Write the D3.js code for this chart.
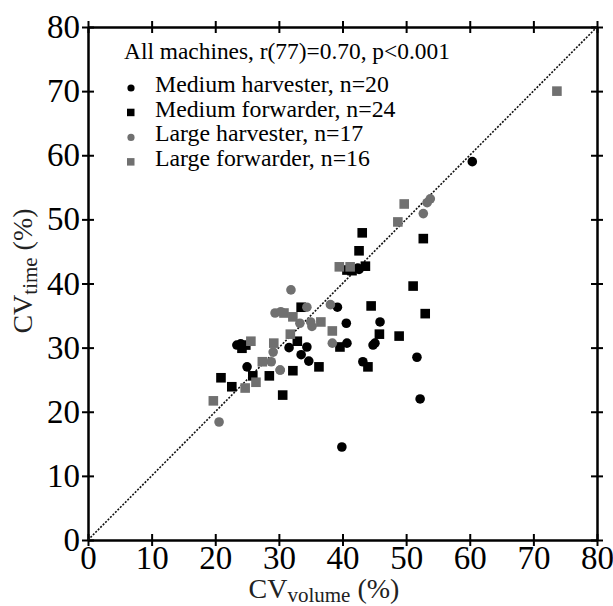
<!DOCTYPE html>
<html>
<head>
<meta charset="utf-8">
<script src="https://cdn.jsdelivr.net/npm/d3@7"></script>
<style>
  body { margin: 0; background: #fff; }
  svg text { font-family: "Liberation Serif", "DejaVu Serif", serif; }
</style>
</head>
<body>
<svg id="chart"></svg>
<script>
// CV_volume (x) and CV_time (y) per machine group
let medHarvX = [23.4, 25.0, 39.2, 40.6, 45.9, 40.7, 45.1, 44.8, 31.6, 34.4, 33.5, 34.7, 43.2, 51.7, 52.2, 42.4, 60.4, 39.9, 24.0, 42.6];
let medHarvY = [30.4, 27.0, 36.3, 33.8, 34.0, 30.7, 30.7, 30.4, 30.0, 30.1, 28.9, 27.9, 27.8, 28.5, 22.0, 42.4, 59.0, 14.5, 30.6, 42.2];

let medFwdX = [24.2, 24.8, 20.9, 22.6, 25.9, 28.5, 30.6, 43.1, 42.6, 43.6, 40.7, 52.7, 51.1, 44.5, 53.0, 45.8, 48.9, 39.6, 33.5, 32.9, 44.0, 36.3, 32.2, 41.5];
let medFwdY = [29.9, 30.4, 25.3, 23.9, 25.6, 25.6, 22.6, 47.9, 45.1, 42.7, 42.1, 47.0, 39.6, 36.5, 35.3, 32.1, 31.8, 30.1, 36.3, 31.0, 27.0, 27.0, 26.4, 42.0];

let lrgHarvX = [20.6, 28.8, 30.2, 29.4, 30.3, 53.8, 53.3, 52.7, 31.9, 34.4, 38.1, 33.3, 35.2, 38.4, 29.1, 30.2, 35.0];
let lrgHarvY = [18.4, 27.8, 26.5, 35.4, 35.6, 53.2, 52.6, 50.9, 39.0, 36.3, 36.7, 33.8, 33.3, 30.7, 29.3, 26.5, 34.0];

let lrgFwdX = [19.7, 24.7, 26.4, 27.4, 29.2, 25.6, 49.7, 48.7, 39.5, 41.2, 31.8, 36.6, 38.4, 32.2, 30.8, 73.7];
let lrgFwdY = [21.7, 23.7, 24.6, 27.8, 30.7, 31.0, 52.4, 49.6, 42.6, 42.6, 32.1, 34.0, 32.6, 34.8, 35.4, 70.0];

let ticks = [0, 10, 20, 30, 40, 50, 60, 70, 80];
let legendTitle = "All machines, r(77)=0.70, p<0.001";
let groups = [
  { name: "Medium harvester, n=20", shape: "circle", color: "#000", xs: medHarvX, ys: medHarvY },
  { name: "Medium forwarder, n=24", shape: "square", color: "#000", xs: medFwdX, ys: medFwdY },
  { name: "Large harvester, n=17", shape: "circle", color: "#707070", xs: lrgHarvX, ys: lrgHarvY },
  { name: "Large forwarder, n=16", shape: "square", color: "#707070", xs: lrgFwdX, ys: lrgFwdY }
];

let svgWidth = 613, svgHeight = 606;
let marginLeft = 88, marginTop = 27, plotW = 509, plotH = 513;

let svg = d3.select('#chart')
  .attr("width", svgWidth)
  .attr("height", svgHeight);

let x = d3.scaleLinear().domain([0, 80]).range([marginLeft, marginLeft + plotW]);
let y = d3.scaleLinear().domain([0, 80]).range([marginTop + plotH, marginTop]);

// axes: outer ticks with labels + inner ticks so they cross the frame
function styleAxis(g) {
  g.attr("font-family", null);
  g.select(".domain").attr("stroke", "#000").attr("stroke-width", 2);
  g.selectAll(".tick line").attr("stroke", "#000").attr("stroke-width", 2);
  g.selectAll(".tick text").attr("font-size", 33).attr("fill", "#000");
}

svg.append("g")
  .attr("transform", "translate(0," + (marginTop + plotH) + ")")
  .call(d3.axisBottom(x).tickValues(ticks).tickSize(6).tickSizeOuter(0).tickPadding(0))
  .call(styleAxis);
svg.append("g")
  .attr("transform", "translate(0," + (marginTop + plotH) + ")")
  .call(d3.axisBottom(x).tickValues(ticks).tickSize(-6).tickSizeOuter(0).tickFormat(""))
  .call(styleAxis);

svg.append("g")
  .attr("transform", "translate(" + marginLeft + ",0)")
  .call(d3.axisLeft(y).tickValues(ticks).tickSize(6).tickSizeOuter(0).tickPadding(2))
  .call(styleAxis);
svg.append("g")
  .attr("transform", "translate(" + marginLeft + ",0)")
  .call(d3.axisLeft(y).tickValues(ticks).tickSize(-6).tickSizeOuter(0).tickFormat(""))
  .call(styleAxis);

svg.append("g")
  .attr("transform", "translate(0," + marginTop + ")")
  .call(d3.axisTop(x).tickValues(ticks).tickSize(6).tickSizeOuter(0).tickFormat(""))
  .call(styleAxis);
svg.append("g")
  .attr("transform", "translate(0," + marginTop + ")")
  .call(d3.axisTop(x).tickValues(ticks).tickSize(-6).tickSizeOuter(0).tickFormat(""))
  .call(styleAxis);

svg.append("g")
  .attr("transform", "translate(" + (marginLeft + plotW) + ",0)")
  .call(d3.axisRight(y).tickValues(ticks).tickSize(6).tickSizeOuter(0).tickFormat(""))
  .call(styleAxis);
svg.append("g")
  .attr("transform", "translate(" + (marginLeft + plotW) + ",0)")
  .call(d3.axisRight(y).tickValues(ticks).tickSize(-6).tickSizeOuter(0).tickFormat(""))
  .call(styleAxis);

// 1:1 line
svg.append("line")
  .attr("x1", x(0)).attr("y1", y(0))
  .attr("x2", x(80)).attr("y2", y(80))
  .attr("stroke", "#111")
  .attr("stroke-width", 1.6)
  .attr("stroke-dasharray", "2,1.5");

// points
groups.forEach(function (grp) {
  let pts = grp.xs.map(function (v, i) { return [v, grp.ys[i]]; });
  if (grp.shape === "circle") {
    svg.append("g").selectAll("circle")
      .data(pts).enter().append("circle")
      .attr("cx", d => x(d[0]))
      .attr("cy", d => y(d[1]))
      .attr("r", 4.8)
      .attr("fill", grp.color);
  } else {
    svg.append("g").selectAll("rect")
      .data(pts).enter().append("rect")
      .attr("x", d => x(d[0]) - 4.8)
      .attr("y", d => y(d[1]) - 4.8)
      .attr("width", 9.6)
      .attr("height", 9.6)
      .attr("fill", grp.color);
  }
});

// legend
let legend = svg.append("g");
legend.append("text")
  .attr("x", 124).attr("y", 59)
  .attr("font-size", 23.4)
  .text(legendTitle);

groups.forEach(function (grp, i) {
  let by = 92 + i * 24.7;
  if (grp.shape === "circle") {
    legend.append("circle").attr("cx", 131).attr("cy", by - 4).attr("r", 3.6).attr("fill", grp.color);
  } else {
    legend.append("rect").attr("x", 127).attr("y", by - 8).attr("width", 7.5).attr("height", 7.5).attr("fill", grp.color);
  }
  legend.append("text")
    .attr("x", 155).attr("y", by)
    .attr("font-size", 23.8)
    .text(grp.name);
});

// axis titles
let xt = svg.append("text")
  .attr("x", 324).attr("y", 598)
  .attr("text-anchor", "middle")
  .attr("font-size", 28)
  .attr("fill", "#222");
xt.append("tspan").text("CV");
xt.append("tspan").attr("font-size", 21).attr("dy", 4).text("volume");
xt.append("tspan").attr("dy", -4).text(" (%)");

let yt = svg.append("text")
  .attr("transform", "translate(32,271) rotate(-90)")
  .attr("text-anchor", "middle")
  .attr("font-size", 28)
  .attr("fill", "#222");
yt.append("tspan").text("CV");
yt.append("tspan").attr("font-size", 21).attr("dy", 5).text("time");
yt.append("tspan").attr("dy", -5).text(" (%)");
</script>
</body>
</html>
